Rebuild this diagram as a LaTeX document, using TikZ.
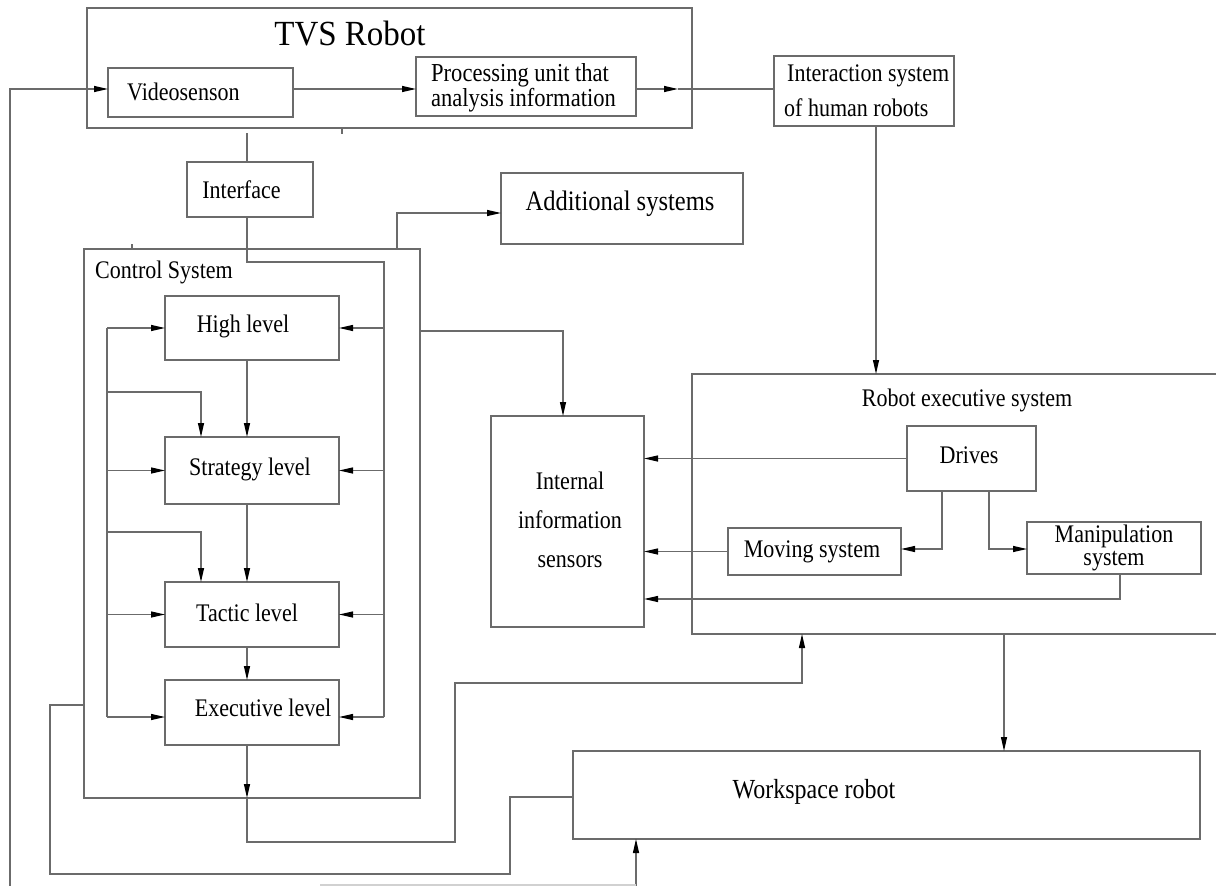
\documentclass[tikz,border=0pt]{standalone}
\usepackage{fontspec}
\setmainfont{Liberation Serif}[FakeStretch=0.87]
\newfontfamily\tvsfont{Liberation Serif}[FakeStretch=0.935]
\usetikzlibrary{arrows.meta}
\definecolor{lc}{gray}{0.42}
\definecolor{faintc}{gray}{0.82}
\begin{document}
\begin{tikzpicture}[x=1pt,y=-1pt,
  box/.style={draw=lc, line width=1.2pt, inner sep=0pt, outer sep=0pt},
  con/.style={draw=lc, line width=1.2pt},
  arr/.style={con, -{Triangle[length=14pt,width=6pt,color=black]}},
  lab/.style={font=\fontsize{25.3}{28}\selectfont, inner sep=0pt, text=black}
]
\useasboundingbox (0,0) rectangle (1216,886);
\clip (0,0) rectangle (1216,886);
\fill[white] (0,0) rectangle (1216,886);

% ---------- boxes ----------
\node[box, minimum width=605pt, minimum height=120pt] (tvs) at (389.5,68) {};
\node[lab, font=\tvsfont\fontsize{35.3}{38}\selectfont] (tvst) at (350,34) {TVS Robot};
\node[box, minimum width=185pt, minimum height=49pt] (vid) at (200.5,92.5) {};
\node[lab, anchor=west] (vidt) at (127,92) {Videosenson};
\node[box, minimum width=220pt, minimum height=59pt] (proc) at (526,86.5) {};
\node[lab, anchor=west, align=left, font=\fontsize{25.9}{23}\selectfont] (proct) at (431,87.5) {Processing unit that\\analysis information};
\node[box, minimum width=180pt, minimum height=70pt] (inter) at (864,91) {};
\node[lab, anchor=west, align=left, font=\fontsize{25.3}{35}\selectfont] (intert) at (784,90.5) {\hspace*{3pt}Interaction system\\of human robots};
\node[box, minimum width=126pt, minimum height=55pt] (iface) at (250,189.5) {};
\node[lab] (ifacet) at (241.5,190) {Interface};
\node[box, minimum width=242pt, minimum height=71pt] (add) at (622,208.5) {};
\node[lab, font=\fontsize{28.2}{30}\selectfont] (addt) at (620,204) {Additional systems};
\node[box, minimum width=336pt, minimum height=549pt] (ctrl) at (252,523.5) {};
\node[lab, anchor=west] (ctrlt) at (95,272) {Control System};
\node[box, minimum width=174pt, minimum height=64pt] (high) at (252,328) {};
\node[lab] (hight) at (243,326) {High level};
\node[box, minimum width=174pt, minimum height=67pt] (strat) at (252,470.5) {};
\node[lab] (stratt) at (250,469) {Strategy level};
\node[box, minimum width=174pt, minimum height=65pt] (tact) at (252,614.5) {};
\node[lab] (tactt) at (247,613) {Tactic level};
\node[box, minimum width=174pt, minimum height=65pt] (exec) at (252,712.5) {};
\node[lab] (exect) at (263,708) {Executive level};
\node[box, minimum width=153pt, minimum height=211pt] (intl) at (567.5,521.5) {};
\node[lab, align=center, font=\fontsize{25.3}{39}\selectfont] (intlt) at (570,520) {Internal\\information\\sensors};
\node[box, minimum width=538pt, minimum height=260pt] (res) at (961,504) {};
\node[lab] (rest) at (967,400) {Robot executive system};
\node[box, minimum width=129pt, minimum height=65pt] (drives) at (971.5,458.5) {};
\node[lab] (drivest) at (969,455) {Drives};
\node[box, minimum width=173pt, minimum height=47pt] (moving) at (814.5,551.5) {};
\node[lab] (movingt) at (812,552) {Moving system};
\node[box, minimum width=174pt, minimum height=52pt] (manip) at (1114,548) {};
\node[lab, align=center, font=\fontsize{25.3}{22.5}\selectfont] (manipt) at (1114,548) {Manipulation\\system};
\node[box, minimum width=627pt, minimum height=88pt] (work) at (886.5,795) {};
\node[lab, font=\fontsize{27.6}{30}\selectfont] (workt) at (814,792) {Workspace robot};

% ---------- coordinates ----------
\coordinate (lbot) at (10,886);
\coordinate (pmid) at (678,89);
\coordinate (ifacetop) at (247,133);
\coordinate (t1a) at (342,128);
\coordinate (t1b) at (342,134);
\coordinate (t2a) at (132,244);
\coordinate (t2b) at (132,249);
\coordinate (rb) at (384,262);
\coordinate (rbend) at (384,717);
\coordinate (lb1) at (107,328);
\coordinate (lb2) at (107,717);
\coordinate (br1) at (107,392);
\coordinate (br2) at (107,532);
\coordinate (c1) at (247,798);
\coordinate (c2) at (247,842);
\coordinate (c3) at (455,842);
\coordinate (c4) at (455,683);
\coordinate (c5) at (802,683);
\coordinate (q1) at (50,705);
\coordinate (q2) at (50,874);
\coordinate (q3) at (510,874);
\coordinate (q4) at (510,797);
\coordinate (wb) at (636,886);
\coordinate (fa) at (320,885);
\coordinate (fb) at (636,885);

% ---------- top connectors ----------
\draw[arr] (lbot) |- ([yshift=3.5pt]vid.west);
\draw[arr] ([yshift=3.5pt]vid.east) -- ([yshift=-2.5pt]proc.west);
\draw[arr] ([yshift=-2.5pt]proc.east) -- (pmid);
\draw[con] (pmid) -- ([yshift=2pt]inter.west);
\draw[arr] ([xshift=12pt]inter.south) -- ([xshift=12pt]inter.south |- res.north);
\draw[con] (ifacetop) -- ([xshift=-3pt]iface.north);
\draw[con] (t1a) -- (t1b);
\draw[con] (t2a) -- (t2b);

% ---------- control system buses ----------
\draw[con] ([xshift=-3pt]iface.south) |- (rb) -- (rbend);
\draw[arr] (rb |- high.east) -- (high.east);
\draw[arr] (rb |- strat.east) -- (strat.east);
\draw[arr] (rb |- tact.east) -- (tact.east);
\draw[arr] (rbend) -- ([yshift=-4.5pt]exec.east);
\draw[con] (lb1) -- (lb2);
\draw[arr] (lb1) -- (high.west);
\draw[arr] (lb1 |- strat.west) -- (strat.west);
\draw[arr] (lb1 |- tact.west) -- (tact.west);
\draw[arr] (lb2) -- ([yshift=-4.5pt]exec.west);
\draw[arr] (br1) -| ([xshift=-51pt]strat.north);
\draw[arr] (br2) -| ([xshift=-51pt]tact.north);
\draw[arr] ([xshift=-5pt]high.south) -- ([xshift=-5pt]strat.north);
\draw[arr] ([xshift=-5pt]strat.south) -- ([xshift=-5pt]tact.north);
\draw[arr] ([xshift=-5pt]tact.south) -- ([xshift=-5pt]exec.north);
\draw[arr] ([xshift=-5pt]exec.south) -- (c1);
\draw[arr] (c1) -- (c2) -- (c3) -- (c4) -- (c5) -- (c5 |- res.south);

% ---------- other connectors ----------
\draw[arr] ([xshift=145pt]ctrl.north) |- ([yshift=-4.5pt]add.west);
\draw[arr] ([yshift=192.5pt]ctrl.east) -| ([xshift=-4.5pt]intl.north);
\draw[arr] (drives.west) -- (drives.west -| intl.east);
\draw[arr] ([xshift=-29.5pt]drives.south) |- ([yshift=2.5pt]moving.east);
\draw[arr] ([xshift=17.5pt]drives.south) |- ([yshift=-1pt]manip.west);
\draw[arr] (moving.west) -- (moving.west -| intl.east);
\draw[arr] ([xshift=6pt]manip.south) |- ([yshift=-77.5pt]intl.east);
\draw[arr] ([xshift=43pt]res.south) -- ([xshift=43pt]res.south |- work.north);
\draw[con] ([yshift=-181.5pt]ctrl.west) -- (q1) -- (q2) -- (q3) -- (q4) -- ([yshift=-2pt]work.west);
\draw[arr] (wb) -- (wb |- work.south);
\draw[draw=faintc, line width=1.2pt] (fa) -- (fb);
\end{tikzpicture}
\end{document}
